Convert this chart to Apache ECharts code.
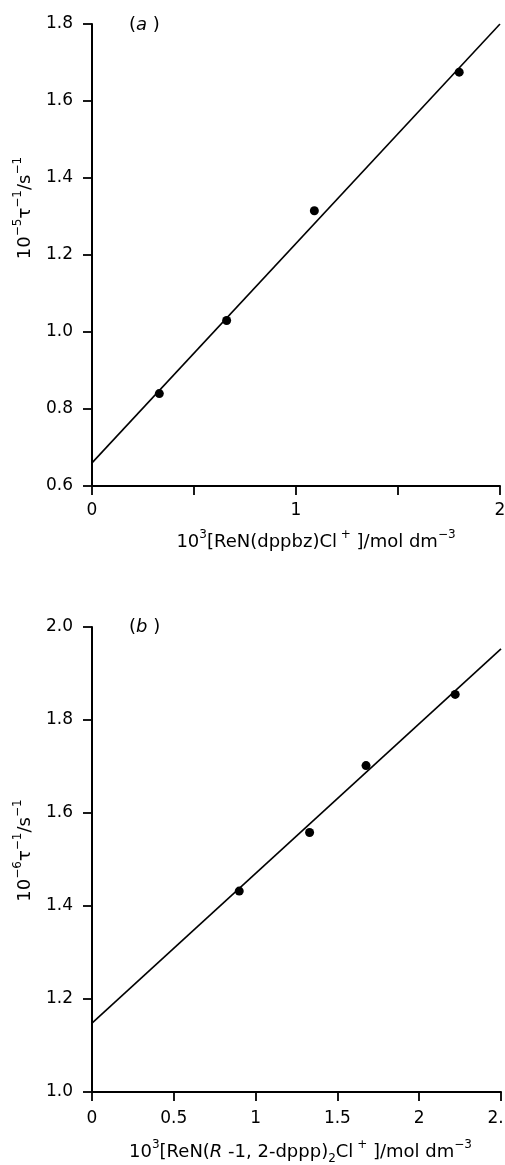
<!DOCTYPE html>
<html>
<head>
<meta charset="utf-8">
<script src="https://cdn.jsdelivr.net/npm/echarts@6/dist/echarts.min.js"></script>
<style>
  html, body { margin: 0; padding: 0; background: #fff; }
  #chart { width: 505px; height: 1165px; }
</style>
</head>
<body>
<div id="chart"></div>
<script>
// panel (a): ReN(dppbz)Cl+
const concA = [0.33, 0.66, 1.09, 1.80];
const rateA = [0.84, 1.03, 1.315, 1.675];
const fitAx = [0, 2];
const fitAy = [0.66, 1.80];
const xLabelsA = [0, 1, 2];

// panel (b): ReN(R-1,2-dppp)2Cl+
const concB = [0.90, 1.33, 1.675, 2.22];
const rateB = [1.432, 1.558, 1.702, 1.855];
const fitBx = [0, 2.5];
const fitBy = [1.148, 1.953];
const xLabelsB = [0, 0.5, 1, 1.5, 2, 2.5];

const FONT = "'DejaVu Sans', 'Liberation Sans', sans-serif";
const black = "#000";

const rich = {
  n: { fontSize: 18, lineHeight: 26, color: black, fontFamily: FONT },
  i: { fontSize: 18, lineHeight: 26, color: black, fontFamily: FONT, fontStyle: "italic" },
  sup: { fontSize: 12, lineHeight: 12, color: black, fontFamily: FONT, verticalAlign: "top" },
  sub: { fontSize: 12, lineHeight: 12, color: black, fontFamily: FONT, verticalAlign: "bottom" }
};

const pairs = (xs, ys) => xs.map((x, i) => [x, ys[i]]);

const axisCommon = {
  type: "value",
  axisLine: { show: true, lineStyle: { color: black, width: 2 } },
  axisTick: { show: true, length: 9, lineStyle: { color: black, width: 1.8 } },
  splitLine: { show: false },
  nameLocation: "middle"
};

const tickFont = { color: black, fontSize: 17, fontFamily: FONT };

const option = {
  backgroundColor: "#fff",
  animation: false,
  grid: [
    { left: 92, top: 24, width: 408, height: 462, outerBoundsMode: "none" },
    { left: 92, top: 627, width: 409, height: 465, outerBoundsMode: "none" }
  ],
  xAxis: [
    Object.assign({}, axisCommon, {
      gridIndex: 0, min: 0, max: 2, interval: 0.5,
      axisLabel: Object.assign({}, tickFont, {
        margin: 16,
        formatter: v => (xLabelsA.includes(v) ? String(v) : "")
      }),
      name: "{n|10}{sup|3}{n|[ReN(dppbz)Cl}{sup| +}{n| ]/mol dm}{sup|−3}",
      nameGap: 43,
      nameTextStyle: { rich: rich, padding: [0, 0, 0, 40] }
    }),
    Object.assign({}, axisCommon, {
      gridIndex: 1, min: 0, max: 2.5, interval: 0.5,
      axisLabel: Object.assign({}, tickFont, {
        margin: 18,
        formatter: v => (xLabelsB.includes(v) ? String(v) : "")
      }),
      name: "{n|10}{sup|3}{n|[ReN(}{i|R}{n| -1, 2-dppp)}{sub|2}{n|Cl}{sup| +}{n| ]/mol dm}{sup|−3}",
      nameGap: 47,
      nameTextStyle: { rich: rich, padding: [0, 0, 0, 8] }
    })
  ],
  yAxis: [
    Object.assign({}, axisCommon, {
      gridIndex: 0, min: 0.6, max: 1.8, interval: 0.2,
      axisLabel: Object.assign({}, tickFont, { margin: 19, formatter: v => v.toFixed(1) }),
      name: "{n|10}{sup|−5}{n|τ}{sup|−1}{n|/s}{sup|−1}",
      nameRotate: 90,
      nameGap: 54,
      nameTextStyle: { rich: rich, padding: [0, 0, 0, 94] }
    }),
    Object.assign({}, axisCommon, {
      gridIndex: 1, min: 1.0, max: 2.0, interval: 0.2,
      axisLabel: Object.assign({}, tickFont, { margin: 19, formatter: v => v.toFixed(1) }),
      name: "{n|10}{sup|−6}{n|τ}{sup|−1}{n|/s}{sup|−1}",
      nameRotate: 90,
      nameGap: 54,
      nameTextStyle: { rich: rich, padding: [0, 0, 0, 18] }
    })
  ],
  graphic: [
    { type: "text", left: 129, top: 16, style: { text: "{n|(}{i|a}{n| )}", rich: rich } },
    { type: "text", left: 129, top: 618, style: { text: "{n|(}{i|b}{n| )}", rich: rich } }
  ],
  series: [
    {
      type: "line", xAxisIndex: 0, yAxisIndex: 0, data: pairs(fitAx, fitAy),
      showSymbol: false, lineStyle: { color: black, width: 1.6 }, silent: true
    },
    {
      type: "scatter", xAxisIndex: 0, yAxisIndex: 0, data: pairs(concA, rateA),
      symbolSize: 9, itemStyle: { color: black, opacity: 1 }
    },
    {
      type: "line", xAxisIndex: 1, yAxisIndex: 1, data: pairs(fitBx, fitBy),
      showSymbol: false, lineStyle: { color: black, width: 1.6 }, silent: true
    },
    {
      type: "scatter", xAxisIndex: 1, yAxisIndex: 1, data: pairs(concB, rateB),
      symbolSize: 9, itemStyle: { color: black, opacity: 1 }
    }
  ]
};

const chart = echarts.init(document.getElementById("chart"), null, { renderer: "canvas" });
chart.setOption(option);
</script>
</body>
</html>
